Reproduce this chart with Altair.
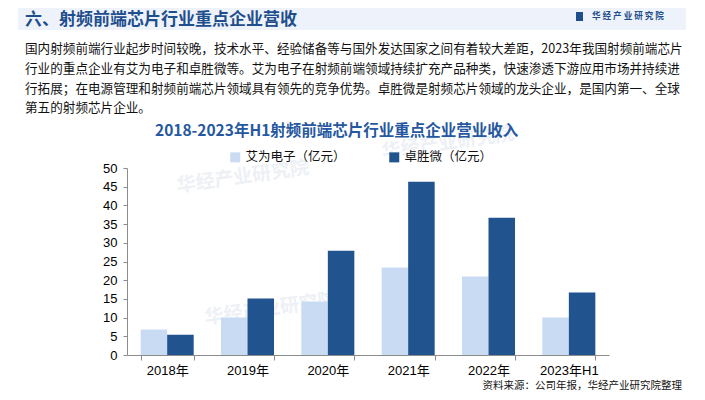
import altair as alt
import pandas as pd

categories = ["2018年", "2019年", "2020年", "2021年", "2022年", "2023年H1"]
aiwei = [6.8, 10.0, 14.3, 23.4, 21.0, 10.0]
zhuosheng = [5.4, 15.1, 27.9, 46.3, 36.7, 16.7]
series_names = ["艾为电子（亿元）", "卓胜微（亿元）"]
series_colors = ["#C9DBF2", "#21538F"]

header_title = "六、射频前端芯片行业重点企业营收"
logo_text = "华 经 产 业 研 究 院"
watermark_text = "华经产业研究院"
paragraph = [
    "国内射频前端行业起步时间较晚，技术水平、经验储备等与国外发达国家之间有着较大差距，2023年我国射频前端芯片",
    "行业的重点企业有艾为电子和卓胜微等。艾为电子在射频前端领域持续扩充产品种类，快速渗透下游应用市场并持续进",
    "行拓展；在电源管理和射频前端芯片领域具有领先的竞争优势。卓胜微是射频芯片领域的龙头企业，是国内第一、全球",
    "第五的射频芯片企业。",
]
chart_title = "2018-2023年H1射频前端芯片行业重点企业营业收入"
source_text = "资料来源：公司年报，华经产业研究院整理"

rows = []
for i, c in enumerate(categories):
    rows.append({"year": c, "series": series_names[0], "value": aiwei[i]})
    rows.append({"year": c, "series": series_names[1], "value": zhuosheng[i]})
df = pd.DataFrame(rows)

CJK = "Noto Sans CJK SC"
NUM = "Liberation Sans, Noto Sans CJK SC"

# plot origin is at page (127, 168)
OX, OY = 127, 168


def one():
    return alt.Chart(pd.DataFrame({"k": [0]}))


def txt(s, px, py, size, color="#000000", weight="normal", align="left", font=CJK,
        opacity=1.0, angle=0):
    return one().mark_text(
        text=s, align=align, baseline="middle", fontSize=size, font=font,
        color=color, fontWeight=weight, opacity=opacity, angle=angle
    ).encode(x=alt.value(px - OX), y=alt.value(py - OY))


header_bg = one().mark_rect(color="#EEF3FB").encode(
    x=alt.value(18 - OX), x2=alt.value(686 - OX),
    y=alt.value(8 - OY), y2=alt.value(30 - OY)
)
logo_icon = one().mark_rect(color="#1F4E8C").encode(
    x=alt.value(576 - OX), x2=alt.value(583 - OX),
    y=alt.value(12 - OY), y2=alt.value(21 - OY)
)

layers = [header_bg, logo_icon,
          txt(header_title, 25, 20, 17, color="#1F4E8C", weight="bold"),
          txt(logo_text, 592, 16, 8.6, color="#1F4E8C", weight="bold")]

# faint watermarks
for (wx, wy) in [(177, 186), (205, 318), (382, 152)]:
    layers.append(txt(watermark_text, wx, wy, 19, color="#DDE3EC", weight="bold",
                      opacity=0.5, angle=352))

for i, line in enumerate(paragraph):
    layers.append(txt(line, 25, 49 + i * 19.8, 12.6, color="#111111"))
layers.append(txt(chart_title, 155, 131, 15.5, color="#2558A0", weight="bold"))
layers.append(txt(source_text, 682, 386, 10.5, color="#111111", align="right"))

bars = alt.Chart(df).mark_bar().encode(
    x=alt.X("year:N", sort=categories,
            scale=alt.Scale(paddingInner=0.34, paddingOuter=0.17),
            axis=alt.Axis(title=None, labelAngle=0, labelFont=NUM, labelFontSize=13,
                          labelColor="#000000", domainColor="#8C8C8C", tickColor="#8C8C8C",
                          tickSize=5, tickBand="extent", labelPadding=4, grid=False)),
    xOffset=alt.XOffset("series:N", sort=series_names),
    y=alt.Y("value:Q", scale=alt.Scale(domain=[0, 50]),
            axis=alt.Axis(title=None, values=list(range(0, 51, 5)), labelFont=NUM,
                          labelFontSize=13, labelColor="#000000", domainColor="#8C8C8C",
                          tickColor="#8C8C8C", tickSize=4, labelPadding=6, grid=False)),
    color=alt.Color("series:N", sort=series_names,
                    scale=alt.Scale(domain=series_names, range=series_colors),
                    legend=alt.Legend(title=None, orient="none", direction="horizontal",
                                      legendX=229 - OX, legendY=151 - OY,
                                      symbolType="square", symbolSize=100,
                                      symbolStrokeWidth=0, labelFont=CJK, labelFontSize=12.5,
                                      labelColor="#111111", labelOffset=4, columnPadding=42,
                                      labelLimit=200)),
)

chart = alt.layer(*layers, bars).properties(
    width=482, height=187,
    padding={"left": 119, "top": 160, "right": 88, "bottom": 37},
    autosize=alt.AutoSizeParams(type="none"),
    background="#FFFFFF",
).configure_view(stroke=None)

chart.save("out.html", embed_options={"renderer": "svg", "actions": False})
